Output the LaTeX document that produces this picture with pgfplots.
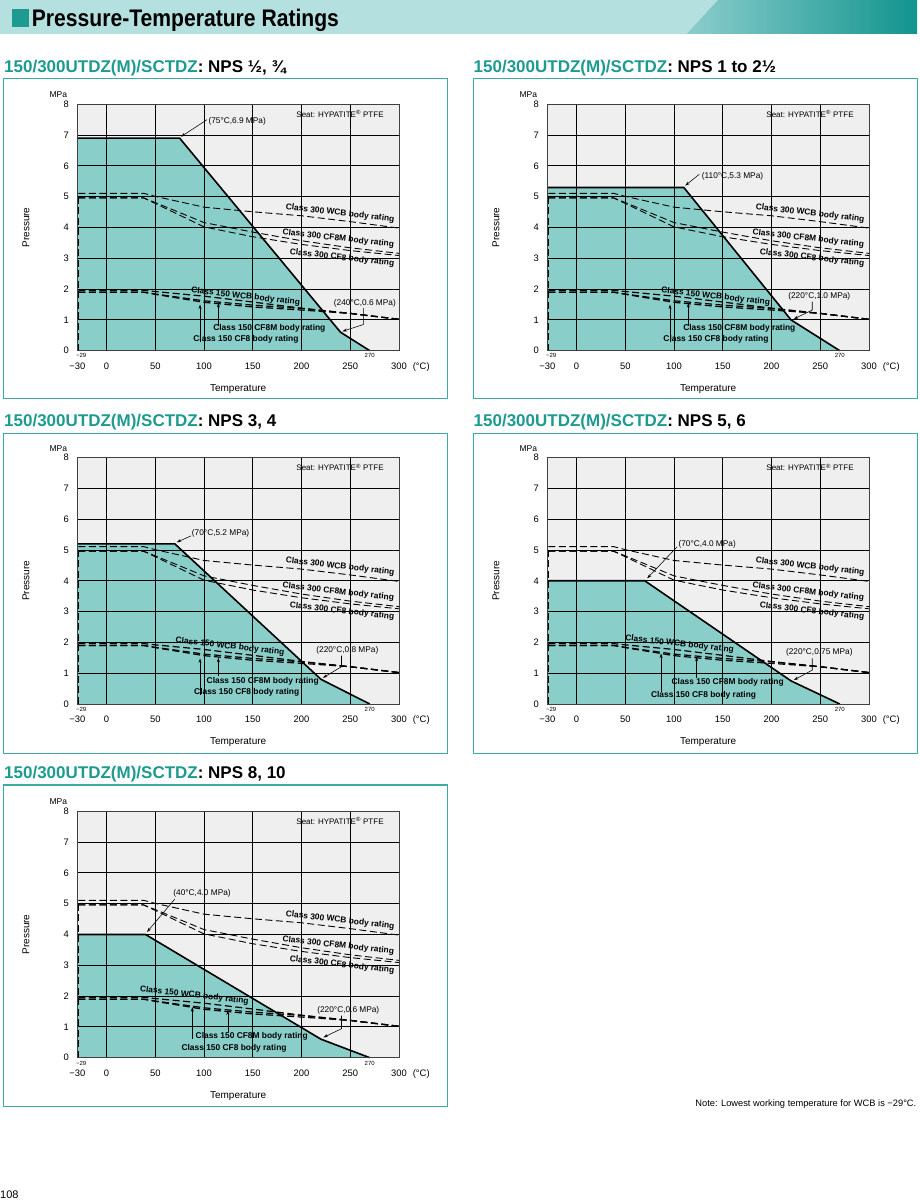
\documentclass[border=0pt]{standalone}
\usepackage{fontspec}
\setmainfont{Liberation Sans}
\newfontfamily\titlefont[FakeStretch=0.88]{Liberation Sans}
\usepackage{pgfplots}
\pgfplotsset{compat=1.18}
\usetikzlibrary{arrows.meta}
\definecolor{bannerlt}{RGB}{181,224,224}
\definecolor{bannermd}{RGB}{140,205,204}
\definecolor{bannerdk}{RGB}{18,148,142}
\definecolor{tealhd}{RGB}{30,155,145}
\definecolor{framec}{RGB}{60,172,162}
\definecolor{fillc}{RGB}{137,206,201}
\definecolor{bgc}{RGB}{239,239,239}

\tikzset{
  dthin/.style={black, line width=0.9pt, dash pattern=on 7pt off 3.5pt},
  dthick/.style={black, line width=1.2pt, dash pattern=on 7pt off 3.5pt},
  ann/.style={font=\fontsize{8.3}{9}\selectfont, inner sep=0pt},
  cls/.style={font=\bfseries\fontsize{8.4}{9}\selectfont, inner sep=0pt},
  arr/.style={-{Stealth[length=4.5pt,width=3pt]}, line width=0.55pt, black},
}

\pgfplotsset{
  ptchart/.style={
    scale only axis, width=321.7pt, height=246.4pt, anchor=south west,
    xmin=-30, xmax=300, ymin=0, ymax=8, clip=false,
    xtick={-30,0,50,100,150,200,250,300},
    xticklabels={−30,0,50,100,150,200,250,300\rlap{\hspace{6pt}(°C)}},
    ytick={0,1,2,3,4,5,6,7,8},
    yticklabels={0,1,2,3,4,5,6,7,8},
    grid=major, major grid style={black, line width=0.8pt},
    major tick length=0pt,
    axis line style={black!75, line width=0.7pt},
    axis background/.style={fill=bgc},
    axis on top,
    tick label style={font=\fontsize{9.4}{10}\selectfont},
    xticklabel style={yshift=-8.5pt},
    yticklabel style={xshift=-5pt},
    xlabel={Temperature}, ylabel={Pressure},
    every axis x label/.style={at={(rel axis cs:0.5,0)}, yshift=-38.3pt, anchor=center, font=\fontsize{10}{11}\selectfont},
    every axis y label/.style={at={(rel axis cs:0,0.5)}, xshift=-51.3pt, rotate=90, anchor=center, font=\fontsize{10}{11}\selectfont},
  }
}

\newcommand{\commonplots}{%
  \addplot[dthin] coordinates {(-29,5.11)(38,5.11)(50,5.01)(100,4.66)(150,4.51)(200,4.38)(250,4.19)(300,3.98)};
  \addplot[dthin] coordinates {(-29,4.96)(38,4.96)(50,4.81)(100,4.16)(150,3.85)(200,3.57)(250,3.34)(300,3.16)};
  \addplot[dthin] coordinates {(-29,4.96)(38,4.96)(50,4.78)(100,4.02)(150,3.70)(200,3.45)(250,3.25)(300,3.09)};
  \addplot[dthick] coordinates {(-29,1.96)(38,1.96)(50,1.92)(100,1.77)(150,1.58)(200,1.38)(250,1.21)(300,1.02)};
  \addplot[dthick] coordinates {(-29,1.90)(38,1.90)(50,1.84)(100,1.62)(150,1.48)(200,1.37)(250,1.21)(300,1.02)};
  \addplot[dthick] coordinates {(-29,1.90)(38,1.90)(50,1.83)(100,1.57)(150,1.42)(200,1.32)(250,1.21)(300,1.02)};
  \addplot[dthick] coordinates {(-29,0)(-29,5.11)};
  \node[font=\fontsize{8}{9}\selectfont] at (axis cs:239.5,7.68) {Seat: HYPATITE\textsuperscript{®} PTFE};
  \node[font=\fontsize{6}{7}\selectfont, inner sep=0pt] at (axis cs:-26,-0.17) {−29};
  \node[font=\fontsize{6}{7}\selectfont, inner sep=0pt] at (axis cs:270,-0.17) {270};
  \node[font=\fontsize{8.5}{9}\selectfont, inner sep=0pt] at (axis cs:-49.5,8.3) {MPa};
  \node[cls, rotate=-6.5] at (axis cs:239.5,4.46) {Class 300 WCB body rating};
  \node[cls, rotate=-6.5] at (axis cs:237.7,3.64) {Class 300 CF8M body rating};
  \node[cls, rotate=-6.5] at (axis cs:241.5,3.01) {Class 300 CF8 body rating};
}

\begin{document}
\begin{tikzpicture}[x=1pt,y=1pt]
\useasboundingbox (0,0) rectangle (919,1200);
\fill[white] (0,0) rectangle (919,1200);
\coordinate (P1) at (77.3,849.3);
\coordinate (P2) at (547.3,849.3);
\coordinate (P3) at (77.3,496);
\coordinate (P4) at (547.3,496);
\coordinate (P5) at (77.3,142.3);
% banner
\fill[bannerlt] (0,1166) rectangle (917,1200);
\shade[left color=bannermd, right color=bannerdk] (686.7,1166) -- (718,1200) -- (917,1200) -- (917,1166) -- cycle;
\fill[tealhd] (12,1173) rectangle (29,1191);
\node[anchor=base west, inner sep=0pt, font=\titlefont\bfseries\fontsize{24}{28}\selectfont] at (31.7,1173.3) {Pressure-Temperature Ratings};

% headings
\node[anchor=base west, inner sep=0pt, font=\bfseries\fontsize{17}{19}\selectfont] at (4,1127.2) {{\color{tealhd}150/300UTDZ(M)/SCTDZ}: NPS ½, ¾};
\node[anchor=base west, inner sep=0pt, font=\bfseries\fontsize{17}{19}\selectfont] at (473.5,1127.2) {{\color{tealhd}150/300UTDZ(M)/SCTDZ}: NPS 1 to 2½};
\node[anchor=base west, inner sep=0pt, font=\bfseries\fontsize{17}{19}\selectfont] at (4,773) {{\color{tealhd}150/300UTDZ(M)/SCTDZ}: NPS 3, 4};
\node[anchor=base west, inner sep=0pt, font=\bfseries\fontsize{17}{19}\selectfont] at (473.5,773) {{\color{tealhd}150/300UTDZ(M)/SCTDZ}: NPS 5, 6};
\node[anchor=base west, inner sep=0pt, font=\bfseries\fontsize{17}{19}\selectfont] at (4,421) {{\color{tealhd}150/300UTDZ(M)/SCTDZ}: NPS 8, 10};

% frames
\draw[framec, line width=1.3pt] (3.3,801.7) rectangle (447.7,1121.4);
\draw[framec, line width=1.3pt] (473.3,801.7) rectangle (917.7,1121.4);
\draw[framec, line width=1.3pt] (3.3,446.7) rectangle (447.7,766.7);
\draw[framec, line width=1.3pt] (473.3,446.7) rectangle (917.7,766.7);
\draw[framec, line width=1.3pt] (3.3,93.3) rectangle (447.7,415);

% Panel 1
\begin{axis}[ptchart, at={(P1)}]
  \addplot[fill=fillc, draw=none] coordinates {(-30,0)(-30,6.9)(75,6.9)(240,0.6)(270,0)} \closedcycle;
  \commonplots
  \addplot[black, line width=1.6pt] coordinates {(-30,6.9)(75,6.9)(240,0.6)(270,0)};
  \node[ann] at (axis cs:134,7.43) {(75°C,6.9 MPa)};
  \draw[arr] (axis cs:103,7.5) -- (axis cs:76.5,6.95);
  \node[ann] at (axis cs:265,1.54) {(240°C,0.6 MPa)};
  \draw[arr] (axis cs:263.5,1.38) -- (axis cs:263.5,0.85) -- (axis cs:242,0.63);
  \node[cls, rotate=-6.5] at (axis cs:142.7,1.75) {Class 150 WCB body rating};
  \node[cls] at (axis cs:167,0.73) {Class 150 CF8M body rating};
  \node[cls] at (axis cs:143,0.37) {Class 150 CF8 body rating};
  \draw[arr] (axis cs:95.9,0.27) -- (axis cs:95.9,1.5);
  \draw[arr] (axis cs:114.7,0.8) -- (axis cs:114.7,1.55);
\end{axis}

% Panel 2
\begin{axis}[ptchart, at={(P2)}]
  \addplot[fill=fillc, draw=none] coordinates {(-30,0)(-30,5.3)(110,5.3)(220,1.0)(270,0)} \closedcycle;
  \commonplots
  \addplot[black, line width=1.6pt] coordinates {(-30,5.3)(110,5.3)(220,1.0)(270,0)};
  \node[ann] at (axis cs:160,5.65) {(110°C,5.3 MPa)};
  \draw[arr] (axis cs:126,5.73) -- (axis cs:111.5,5.36);
  \node[ann] at (axis cs:249,1.78) {(220°C,1.0 MPa)};
  \draw[arr] (axis cs:241.8,1.59) -- (axis cs:241.8,1.32) -- (axis cs:223,1.03);
  \node[cls, rotate=-6.5] at (axis cs:142.7,1.75) {Class 150 WCB body rating};
  \node[cls] at (axis cs:167,0.73) {Class 150 CF8M body rating};
  \node[cls] at (axis cs:143,0.37) {Class 150 CF8 body rating};
  \draw[arr] (axis cs:95.9,0.27) -- (axis cs:95.9,1.5);
  \draw[arr] (axis cs:114.7,0.8) -- (axis cs:114.7,1.55);
\end{axis}

% Panel 3
\begin{axis}[ptchart, at={(P3)}]
  \addplot[fill=fillc, draw=none] coordinates {(-30,0)(-30,5.2)(70,5.2)(220,0.8)(270,0)} \closedcycle;
  \commonplots
  \addplot[black, line width=1.6pt] coordinates {(-30,5.2)(70,5.2)(220,0.8)(270,0)};
  \node[ann] at (axis cs:117,5.55) {(70°C,5.2 MPa)};
  \draw[arr] (axis cs:86.7,5.46) -- (axis cs:72,5.25);
  \node[ann] at (axis cs:247,1.73) {(220°C,0.8 MPa)};
  \draw[arr] (axis cs:241,1.57) -- (axis cs:241,1.21) -- (axis cs:222,0.85);
  \node[cls, rotate=-6.5] at (axis cs:126.6,1.86) {Class 150 WCB body rating};
  \node[cls] at (axis cs:160.2,0.72) {Class 150 CF8M body rating};
  \node[cls] at (axis cs:143.8,0.37) {Class 150 CF8 body rating};
  \draw[arr] (axis cs:95.9,0.29) -- (axis cs:95.9,1.48);
  \draw[arr] (axis cs:114.7,0.92) -- (axis cs:114.7,1.5);
\end{axis}

% Panel 4
\begin{axis}[ptchart, at={(P4)}]
  \addplot[fill=fillc, draw=none] coordinates {(-30,0)(-30,4.0)(70,4.0)(220,0.75)(270,0)} \closedcycle;
  \commonplots
  \addplot[black, line width=1.6pt] coordinates {(-30,4.0)(70,4.0)(220,0.75)(270,0)};
  \node[ann] at (axis cs:134,5.18) {(70°C,4.0 MPa)};
  \draw[arr] (axis cs:103,5.1) -- (axis cs:72.5,4.08);
  \node[ann] at (axis cs:249,1.68) {(220°C,0.75 MPa)};
  \draw[arr] (axis cs:241.8,1.48) -- (axis cs:241.8,1.1) -- (axis cs:223,0.78);
  \node[cls, rotate=-6.5] at (axis cs:105.7,1.94) {Class 150 WCB body rating};
  \node[cls] at (axis cs:155,0.69) {Class 150 CF8M body rating};
  \node[cls] at (axis cs:130.3,0.29) {Class 150 CF8 body rating};
  \draw[arr] (axis cs:86.7,0.4) -- (axis cs:86.7,1.64);
  \draw[arr] (axis cs:123.2,0.83) -- (axis cs:123.2,1.53);
\end{axis}

% Panel 5
\begin{axis}[ptchart, at={(P5)}]
  \addplot[fill=fillc, draw=none] coordinates {(-30,0)(-30,4.0)(40,4.0)(220,0.6)(270,0)} \closedcycle;
  \commonplots
  \addplot[black, line width=1.6pt] coordinates {(-30,4.0)(40,4.0)(220,0.6)(270,0)};
  \node[ann] at (axis cs:98,5.32) {(40°C,4.0 MPa)};
  \draw[arr] (axis cs:70,5.15) -- (axis cs:41.5,4.08);
  \node[ann] at (axis cs:248,1.55) {(220°C,0.6 MPa)};
  \draw[arr] (axis cs:241,1.37) -- (axis cs:241,0.94) -- (axis cs:222.5,0.66);
  \node[cls, rotate=-6.5] at (axis cs:90,2.02) {Class 150 WCB body rating};
  \node[cls] at (axis cs:148.9,0.68) {Class 150 CF8M body rating};
  \node[cls] at (axis cs:130.8,0.31) {Class 150 CF8 body rating};
  \draw[arr] (axis cs:88,0.6) -- (axis cs:88,1.64);
  \draw[arr] (axis cs:124.4,0.83) -- (axis cs:124.4,1.53);
\end{axis}

% footer
\node[anchor=base east, inner sep=0pt, font=\fontsize{9.3}{10}\selectfont] at (916.5,93) {Note: Lowest working temperature for WCB is −29°C.};
\node[anchor=base west, inner sep=0pt, font=\fontsize{11}{12}\selectfont] at (0,1.5) {108};
\end{tikzpicture}
\end{document}
